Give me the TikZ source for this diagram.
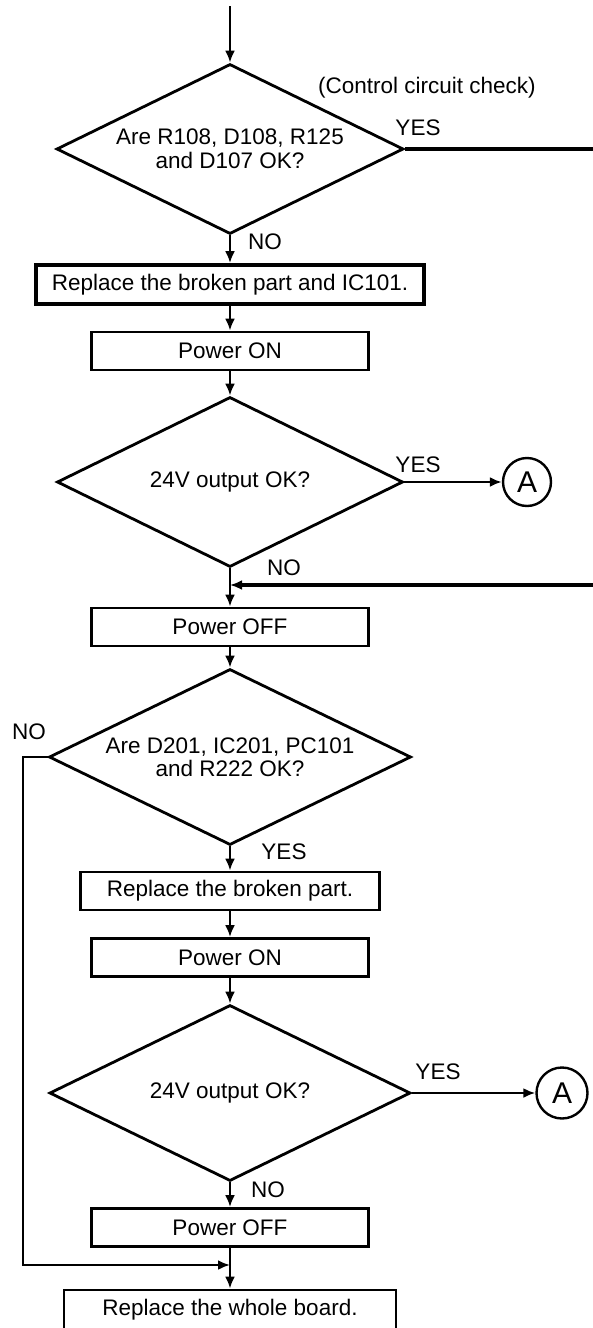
\documentclass[tikz,border=0pt]{standalone}
\usepackage{fontspec}
\setmainfont{Liberation Sans}
\usepackage{tikz}
\usetikzlibrary{
    arrows.meta,
    shapes.geometric
}

\begin{document}
\begin{tikzpicture}[
    x=1pt, y=-1pt,
    font=\fontsize{22.5}{23.5}\selectfont,
    box/.style={
        draw,
        line width=2.8pt,
        minimum height=38pt,
        inner sep=0pt
    },
    decision/.style={
        draw,
        diamond,
        aspect=2.05,
        line width=2.8pt,
        inner sep=0pt,
        align=center
    },
    conn/.style={
        draw,
        circle,
        line width=2.4pt,
        inner sep=0pt,
        font=\fontsize{30}{30}\selectfont
    },
    arrow/.style={-{Latex[length=12pt,width=10pt]},line width=2.8pt},
    wire/.style={line width=3.4pt}
]
\useasboundingbox (0,0) rectangle (592,1328);

\node[decision, minimum width=347pt, minimum height=170pt] (d1) at (230,149) {Are R108, D108, R125\\and D107 OK?};
\node[box, line width=3.8pt, minimum width=388pt, minimum height=39pt] (rep1) at (230,284.5) {Replace the broken part and IC101.};
\node[box, minimum width=277pt] (on1) at (230,351) {Power ON};
\node[decision, minimum width=346pt, minimum height=170pt] (d2) at (230,482) {24V output OK?};
\node[conn, minimum size=48pt] (a1) at (527,482) {A};
\node[box, minimum width=277pt] (off1) at (230,627) {Power OFF};

\node[decision, minimum width=362pt, minimum height=176pt] (d3) at (230,757) {Are D201, IC201, PC101\\and R222 OK?};
\node[box, minimum width=299pt] (rep2) at (230,891) {Replace the broken part.};
\node[box, minimum width=277pt] (on2) at (230,957.5) {Power ON};
\node[decision, minimum width=361pt, minimum height=176pt] (d4) at (230,1093) {24V output OK?};
\node[conn, minimum size=51pt] (a2) at (562,1093) {A};
\node[box, minimum width=277pt] (off2) at (230,1227.5) {Power OFF};
\node[box, minimum width=332pt, minimum height=40pt] (rep3) at (230,1310) {Replace the whole board.};

% branch labels
\node (ctrl) at (427,88) {(Control circuit check)};
\node (yes1) at (418,128) {YES};
\node (no1) at (265,242) {NO};
\node (yes2) at (418,465) {YES};
\node (no2) at (284,568) {NO};
\node (no3) at (29,732) {NO};
\node (yes3) at (284,852) {YES};
\node (yes4) at (438,1072) {YES};
\node (no4) at (268,1190) {NO};

\coordinate (top) at (230,6);
\coordinate (yesend) at (600,149);
\coordinate (ret) at (600,585);
\coordinate (merge) at (230,585);
\coordinate (lft) at (23,1265);
\coordinate (join) at (230,1265);

\draw[arrow] (top) -- (d1.north);
\draw[wire] (d1.east) -- (yesend);
\draw[arrow] (d1.south) -- (rep1.north);
\draw[arrow] (rep1.south) -- (on1.north);
\draw[arrow] (on1.south) -- (d2.north);
\draw[arrow] (d2.east) -- (a1.west);
\draw[arrow] (d2.south) -- (off1.north);
\draw[arrow, wire] (ret) -- (merge);

\draw[arrow] (off1.south) -- (d3.north);
\draw[arrow] (d3.south) -- (rep2.north);
\draw[arrow] (rep2.south) -- (on2.north);
\draw[arrow] (on2.south) -- (d4.north);
\draw[arrow] (d4.east) -- (a2.west);
\draw[arrow] (d4.south) -- (off2.north);
\draw[arrow] (d3.west) -| (lft) -- (join);
\draw[arrow] (off2.south) -- (rep3.north);

\end{tikzpicture}
\end{document}
